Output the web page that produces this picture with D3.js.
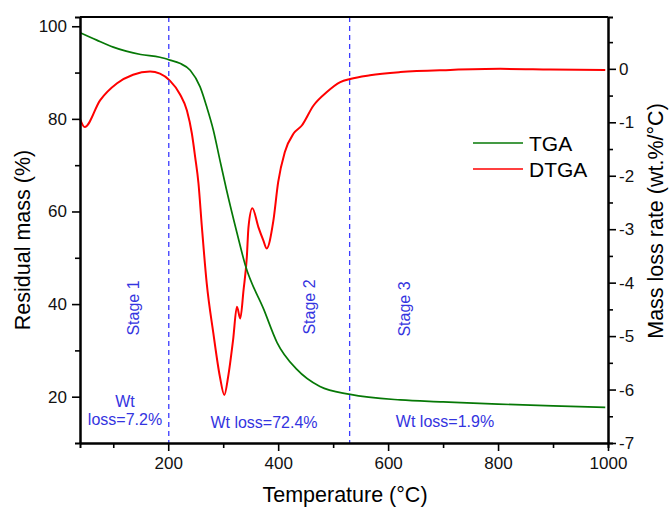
<!DOCTYPE html>
<html>
<head>
<meta charset="utf-8">
<script src="https://cdn.jsdelivr.net/npm/d3@7"></script>
<style>
  body { margin: 0; background: #fff; }
  svg { font-family: Arial, "Liberation Sans", sans-serif; }
</style>
</head>
<body>
<div id="chart"></div>
<script>
// TGA curve (residual mass, left axis)
var tgaTemp = [40, 70, 100, 150, 185, 203, 221, 240, 258, 270, 282, 294, 306, 325, 340, 374, 398, 434, 476, 531, 622, 700, 800, 900, 995];
var tgaMass = [98.6, 97.0, 95.5, 93.9, 93.3, 92.7, 92.0, 90.5, 86.9, 82.6, 77.6, 71.1, 64.7, 55.4, 48.5, 38.8, 31.7, 25.9, 22.2, 20.5, 19.3, 18.9, 18.4, 18.0, 17.7];

// DTGA curve (mass loss rate, right axis)
var dtgaTemp = [40, 48, 76, 107, 136, 167, 185, 203, 221, 234, 243, 249, 255, 261, 270, 282, 294, 302, 309, 318, 325, 331, 337, 343, 346, 353, 364, 373, 379, 391, 400, 412, 428, 443, 464, 488, 513, 531, 567, 622, 713, 804, 895, 995];
var dtgaRate = [-0.95, -1.09, -0.59, -0.27, -0.11, -0.05, -0.09, -0.22, -0.47, -0.78, -1.21, -1.65, -2.14, -2.93, -4.01, -4.94, -5.76, -6.10, -5.76, -5.07, -4.45, -4.67, -4.14, -3.52, -2.96, -2.61, -2.96, -3.21, -3.36, -2.86, -2.12, -1.56, -1.21, -1.06, -0.69, -0.44, -0.25, -0.19, -0.12, -0.06, -0.02, 0.00, -0.01, -0.02];

var xTicks = [200, 400, 600, 800, 1000];
var xMinor = [100, 300, 500, 700, 900];
var yLeftTicks = [20, 40, 60, 80, 100];
var yLeftMinor = [30, 50, 70, 90];
var yRightTicks = [0, -1, -2, -3, -4, -5, -6, -7];
var yRightMinor = [0.5, -0.5, -1.5, -2.5, -3.5, -4.5, -5.5, -6.5];

// stage boundaries and annotations
var stageLines = [201, 530];
var stageNames = ["Stage 1", "Stage 2", "Stage 3"];

var svgWidth = 670;
var svgHeight = 508;
var margin = { top: 17, right: 62, bottom: 65, left: 80 };
var chartWidth = svgWidth - margin.left - margin.right;
var chartHeight = svgHeight - margin.top - margin.bottom;

var svg = d3.select("#chart").append("svg")
  .attr("width", svgWidth)
  .attr("height", svgHeight);

var g = svg.append("g")
  .attr("transform", `translate(${margin.left}, ${margin.top})`);

var x = d3.scaleLinear().domain([39.5, 1000]).range([0, chartWidth]);
var yL = d3.scaleLinear().domain([10, 102]).range([chartHeight, 0]);
var yR = d3.scaleLinear().domain([-7, 0.97]).range([chartHeight, 0]);

// curves
var tgaData = tgaTemp.map((t, i) => [t, tgaMass[i]]);
var dtgaData = dtgaTemp.map((t, i) => [t, dtgaRate[i]]);

g.append("path")
  .datum(dtgaData)
  .attr("fill", "none")
  .attr("stroke", "#ff0000")
  .attr("stroke-width", 2)
  .attr("d", d3.line().x(d => x(d[0])).y(d => yR(d[1])).curve(d3.curveMonotoneX));

g.append("path")
  .datum(tgaData)
  .attr("fill", "none")
  .attr("stroke", "#067806")
  .attr("stroke-width", 1.7)
  .attr("d", d3.line().x(d => x(d[0])).y(d => yL(d[1])).curve(d3.curveMonotoneX));

// dashed stage lines
g.selectAll(".stage-line")
  .data(stageLines)
  .enter()
  .append("line")
  .attr("x1", d => x(d))
  .attr("x2", d => x(d))
  .attr("y1", 0)
  .attr("y2", chartHeight)
  .attr("stroke", "#3b3bff")
  .attr("stroke-width", 1.3)
  .attr("stroke-dasharray", "5,4");

// axes
function styleAxis(sel) {
  sel.select(".domain").attr("stroke", "#000").attr("stroke-width", 2);
  sel.selectAll(".tick line").attr("stroke", "#000").attr("stroke-width", 1.6);
  sel.selectAll(".tick text").attr("font-size", "17px").attr("fill", "#111");
}

g.append("g")
  .attr("transform", `translate(0, ${chartHeight})`)
  .call(d3.axisBottom(x).tickValues(xMinor).tickSize(5).tickFormat(""))
  .call(styleAxis);
g.append("g")
  .attr("transform", `translate(0, ${chartHeight})`)
  .call(d3.axisBottom(x).tickValues(xTicks).tickSize(8).tickSizeOuter(0).tickPadding(6).tickFormat(d3.format("d")))
  .call(styleAxis);

g.append("g")
  .call(d3.axisLeft(yL).tickValues(yLeftMinor).tickSize(5).tickFormat(""))
  .call(styleAxis);
g.append("g")
  .call(d3.axisLeft(yL).tickValues(yLeftTicks).tickSize(8).tickSizeOuter(0).tickPadding(5))
  .call(styleAxis);

g.append("g")
  .attr("transform", `translate(${chartWidth}, 0)`)
  .call(d3.axisRight(yR).tickValues(yRightMinor).tickSize(5).tickFormat(""))
  .call(styleAxis);
g.append("g")
  .attr("transform", `translate(${chartWidth}, 0)`)
  .call(d3.axisRight(yR).tickValues(yRightTicks).tickSize(8).tickSizeOuter(0).tickPadding(3)
    .tickFormat(d => d === 0 ? "0" : "-" + Math.abs(d)))
  .call(styleAxis);

// top border
g.append("line")
  .attr("x1", 0).attr("x2", chartWidth)
  .attr("y1", 0).attr("y2", 0)
  .attr("stroke", "#000").attr("stroke-width", 2);

// stage labels
var blue = "#3434e0";
var stagePos = [[133, 308], [309, 307], [404, 309]];
svg.selectAll(".stage")
  .data(stageNames)
  .enter()
  .append("text")
  .attr("transform", (d, i) => `translate(${stagePos[i][0] + 6}, ${stagePos[i][1]}) rotate(-90)`)
  .attr("text-anchor", "middle")
  .attr("font-size", "16px")
  .attr("fill", blue)
  .text(d => d);

// weight loss labels
svg.append("text").attr("x", 125).attr("y", 407).attr("text-anchor", "middle")
  .attr("font-size", "16px").attr("fill", blue).text("Wt");
svg.append("text").attr("x", 125).attr("y", 425).attr("text-anchor", "middle")
  .attr("font-size", "16px").attr("fill", blue).text("loss=7.2%");
svg.append("text").attr("x", 264).attr("y", 428).attr("text-anchor", "middle")
  .attr("font-size", "16px").attr("fill", blue).text("Wt loss=72.4%");
svg.append("text").attr("x", 445).attr("y", 427).attr("text-anchor", "middle")
  .attr("font-size", "16px").attr("fill", blue).text("Wt loss=1.9%");

// legend
var legend = [["TGA", "#067806"], ["DTGA", "#ff0000"]];
legend.forEach(function(l, i) {
  var ly = 143 + i * 26;
  svg.append("line")
    .attr("x1", 473).attr("x2", 523)
    .attr("y1", ly).attr("y2", ly)
    .attr("stroke", l[1]).attr("stroke-width", 1.7);
  svg.append("text")
    .attr("x", 529).attr("y", ly + 8)
    .attr("font-size", "21px")
    .attr("fill", "#000")
    .text(l[0]);
});

// axis titles
svg.append("text")
  .attr("x", 345).attr("y", 502)
  .attr("text-anchor", "middle")
  .attr("font-size", "21.5px")
  .attr("fill", "#000")
  .text("Temperature (\u00B0C)");

svg.append("text")
  .attr("transform", "translate(30, 240) rotate(-90)")
  .attr("text-anchor", "middle")
  .attr("font-size", "21.5px")
  .attr("fill", "#000")
  .text("Residual mass (%)");

svg.append("text")
  .attr("transform", "translate(663, 221) rotate(-90)")
  .attr("text-anchor", "middle")
  .attr("font-size", "21.5px")
  .attr("fill", "#000")
  .text("Mass loss rate (wt.%/\u00B0C)");
</script>
</body>
</html>
